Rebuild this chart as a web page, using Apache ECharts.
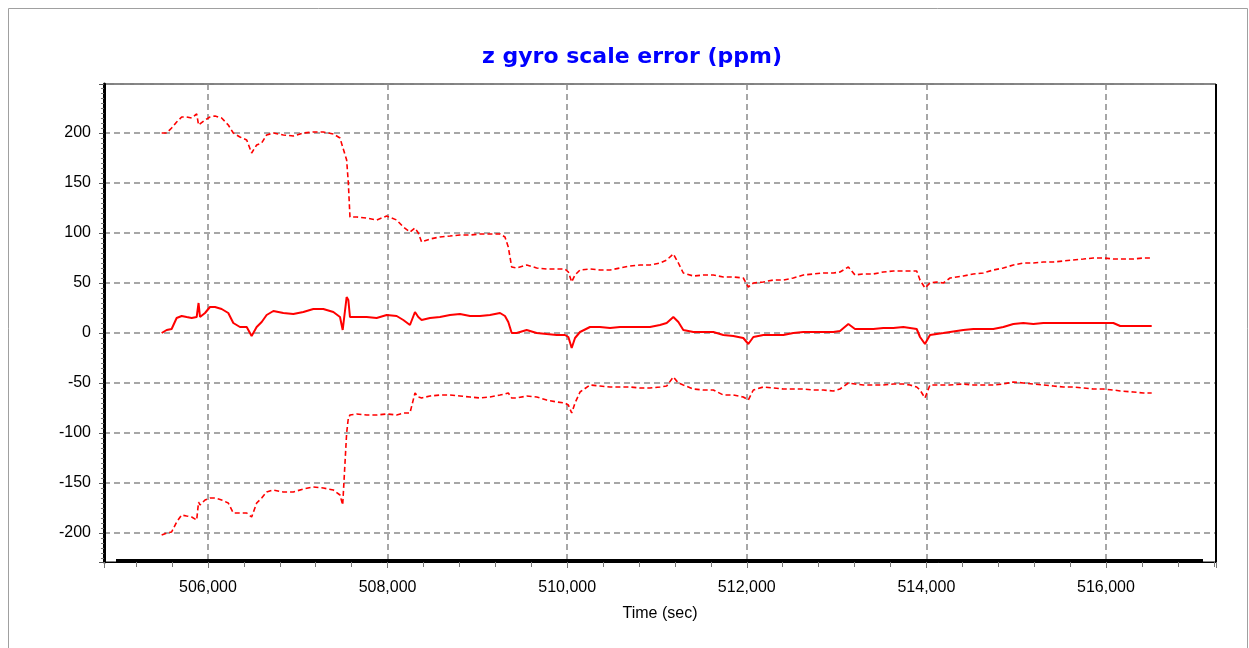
<!DOCTYPE html>
<html>
<head>
<meta charset="utf-8">
<script src="https://cdn.jsdelivr.net/npm/echarts@6/dist/echarts.min.js"></script>
<style>
  html, body { margin: 0; padding: 0; background: #fff; }
  #chart { width: 1249px; height: 648px; }
</style>
</head>
<body>
<div id="chart"></div>
<script>
// time stamps (sec), shared by the three curves
const times = [
  505484, 505540, 505595, 505651, 505707, 505762, 505818, 505874, 505895, 505911,
  505967, 506022, 506078, 506152, 506226, 506282, 506356, 506431, 506486, 506542,
  506598, 506653, 506728, 506839, 506950, 507062, 507173, 507284, 507396, 507470,
  507500, 507544, 507563, 507581, 507656, 507767, 507878, 507990, 508101, 508175,
  508249, 508305, 508342, 508379, 508472, 508583, 508695, 508806, 508918, 509029,
  509140, 509252, 509307, 509344, 509382, 509437, 509549, 509660, 509771, 509883,
  509975, 510013, 510050, 510087, 510143, 510254, 510365, 510477, 510588, 510699,
  510811, 510922, 511033, 511108, 511182, 511238, 511293, 511405, 511516, 511627,
  511739, 511850, 511961, 512017, 512073, 512184, 512295, 512407, 512518, 512630,
  512741, 512852, 512964, 513038, 513131, 513205, 513298, 513409, 513520, 513632,
  513743, 513817, 513892, 513929, 513984, 514040, 514114, 514189, 514263, 514411,
  514523, 514634, 514745, 514857, 514968, 515079, 515191, 515302, 515414, 515525,
  515636, 515748, 515859, 515970, 516082, 516158, 516304, 516416, 516509
];

// upper bound (dashed)
const upper = [
  200, 200, 205, 211, 216, 216, 215, 219, 208, 210,
  213, 216, 217, 215, 208, 200, 196, 193, 180, 188,
  190, 198, 200, 198, 197, 200, 201, 201, 199, 195,
  186, 173, 150, 116, 116, 115, 113, 117, 113, 106,
  101, 105, 100, 91, 94, 96, 97, 98, 98, 99,
  99, 99, 96, 86, 66, 65, 68, 65, 64, 64,
  64, 61, 51, 58, 63, 64, 63, 63, 65, 67,
  68, 68, 70, 73, 79, 70, 60, 57, 58, 58,
  56, 56, 55, 46, 50, 51, 53, 53, 55, 58,
  59, 60, 60, 61, 66, 58, 59, 59, 61, 62,
  62, 62, 62, 53, 45, 50, 51, 50, 55, 57,
  59, 60, 63, 65, 68, 70, 70, 71, 71, 72,
  73, 74, 75, 75, 74, 74, 74, 75, 75
];

// estimate (solid)
const estimate = [
  0, 3, 4, 15, 17, 16, 15, 16, 30, 16,
  20, 26, 26, 24, 20, 10, 6, 6, -3, 6,
  11, 18, 22, 20, 19, 21, 24, 24, 21, 16,
  3, 36, 33, 16, 16, 16, 15, 18, 17, 13,
  8, 21, 16, 13, 15, 16, 18, 19, 17, 17,
  18, 20, 17, 11, 0, 0, 3, 0, -1, -2,
  -2, -4, -15, -5, 1, 6, 6, 5, 6, 6,
  6, 6, 8, 10, 16, 11, 3, 1, 1, 1,
  -2, -3, -5, -11, -4, -2, -2, -2, 0, 1,
  1, 1, 1, 2, 9, 4, 4, 4, 5, 5,
  6, 5, 4, -4, -11, -2, -1, 0, 1, 3,
  4, 4, 4, 6, 9, 10, 9, 10, 10, 10,
  10, 10, 10, 10, 10, 7, 7, 7, 7
];

// lower bound (dashed)
const lower = [
  -202, -200, -199, -189, -182, -183, -184, -187, -169, -172,
  -167, -165, -165, -167, -170, -180, -180, -180, -184, -170,
  -165, -159, -157, -159, -159, -156, -154, -155, -157, -162,
  -172, -100, -85, -82, -81, -82, -82, -81, -82, -80,
  -80, -60, -64, -65, -63, -62, -62, -63, -64, -65,
  -64, -62, -61, -60, -65, -65, -63, -64, -67, -69,
  -70, -72, -80, -70, -59, -52, -53, -54, -54, -54,
  -55, -55, -54, -53, -44, -50, -52, -56, -57, -57,
  -62, -62, -64, -67, -57, -54, -55, -56, -56, -56,
  -57, -57, -58, -56, -50, -51, -52, -52, -52, -51,
  -51, -52, -54, -57, -65, -52, -52, -52, -52, -51,
  -52, -52, -52, -51, -49, -50, -51, -52, -53, -54,
  -54, -55, -56, -56, -57, -58, -59, -60, -60
];

const pairs = arr => times.map((t, i) => [t, arr[i]]);

const axisFont = { color: '#000', fontSize: 16, fontFamily: 'Liberation Sans, Arial, sans-serif' };
const gridLine = { show: true, lineStyle: { color: '#8a8a8a', width: 1.5, type: [6, 4] } };

const chart = echarts.init(document.getElementById('chart'));
chart.setOption({
  animation: false,
  backgroundColor: '#fff',
  title: {
    text: 'z gyro scale error (ppm)',
    left: 627,
    top: 41,
    textAlign: 'center',
    textStyle: { color: '#0000ff', fontSize: 22, fontWeight: 'bold', fontFamily: 'DejaVu Sans, sans-serif' }
  },
  grid: {
    left: 104, right: 33, top: 84, bottom: 86,
    show: true, borderColor: '#000', borderWidth: 1
  },
  xAxis: {
    type: 'value',
    min: 504842,
    max: 517225,
    splitNumber: 6,
    name: 'Time (sec)',
    nameLocation: 'middle',
    nameGap: 44,
    nameTextStyle: axisFont,
    axisLine: { show: true, onZero: false, lineStyle: { color: '#000', width: 1 } },
    axisTick: { show: true, length: 6, lineStyle: { color: '#777' } },
    minorTick: { show: true, splitNumber: 5, length: 5, lineStyle: { color: '#777' } },
    axisLabel: Object.assign({
      margin: 18,
      showMinLabel: false,
      showMaxLabel: false,
      formatter: v => v.toLocaleString('en-US')
    }, axisFont),
    splitLine: gridLine
  },
  yAxis: {
    type: 'value',
    min: -229,
    max: 249,
    splitNumber: 10,
    axisLine: { show: true, lineStyle: { color: '#000', width: 3 } },
    axisTick: { show: true, length: 5, lineStyle: { color: '#555' } },
    minorTick: { show: true, splitNumber: 10, length: 3, lineStyle: { color: '#777' } },
    axisLabel: Object.assign({ margin: 13, showMinLabel: false, showMaxLabel: false }, axisFont),
    splitLine: gridLine
  },
  graphic: [
    // outer panel border
    { type: 'rect', shape: { x: 8.5, y: 8.5, width: 1239, height: 700 }, style: { fill: null, stroke: '#a0a0a0', lineWidth: 1 }, silent: true, z: -10 },
    // heavy bar along the bottom of the plot and right edge
    { type: 'rect', shape: { x: 116, y: 559, width: 1087, height: 3 }, style: { fill: '#000' }, silent: true, z: 10 },
    { type: 'rect', shape: { x: 1215, y: 84, width: 2, height: 478 }, style: { fill: '#000' }, silent: true, z: 10 }
  ],
  series: [
    {
      name: 'upper', type: 'line', data: pairs(upper), showSymbol: false,
      lineStyle: { color: '#ff0000', width: 1.6, type: [5, 3] }
    },
    {
      name: 'estimate', type: 'line', data: pairs(estimate), showSymbol: false,
      lineStyle: { color: '#ff0000', width: 2 }
    },
    {
      name: 'lower', type: 'line', data: pairs(lower), showSymbol: false,
      lineStyle: { color: '#ff0000', width: 1.6, type: [5, 3] }
    }
  ]
});
</script>
</body>
</html>
